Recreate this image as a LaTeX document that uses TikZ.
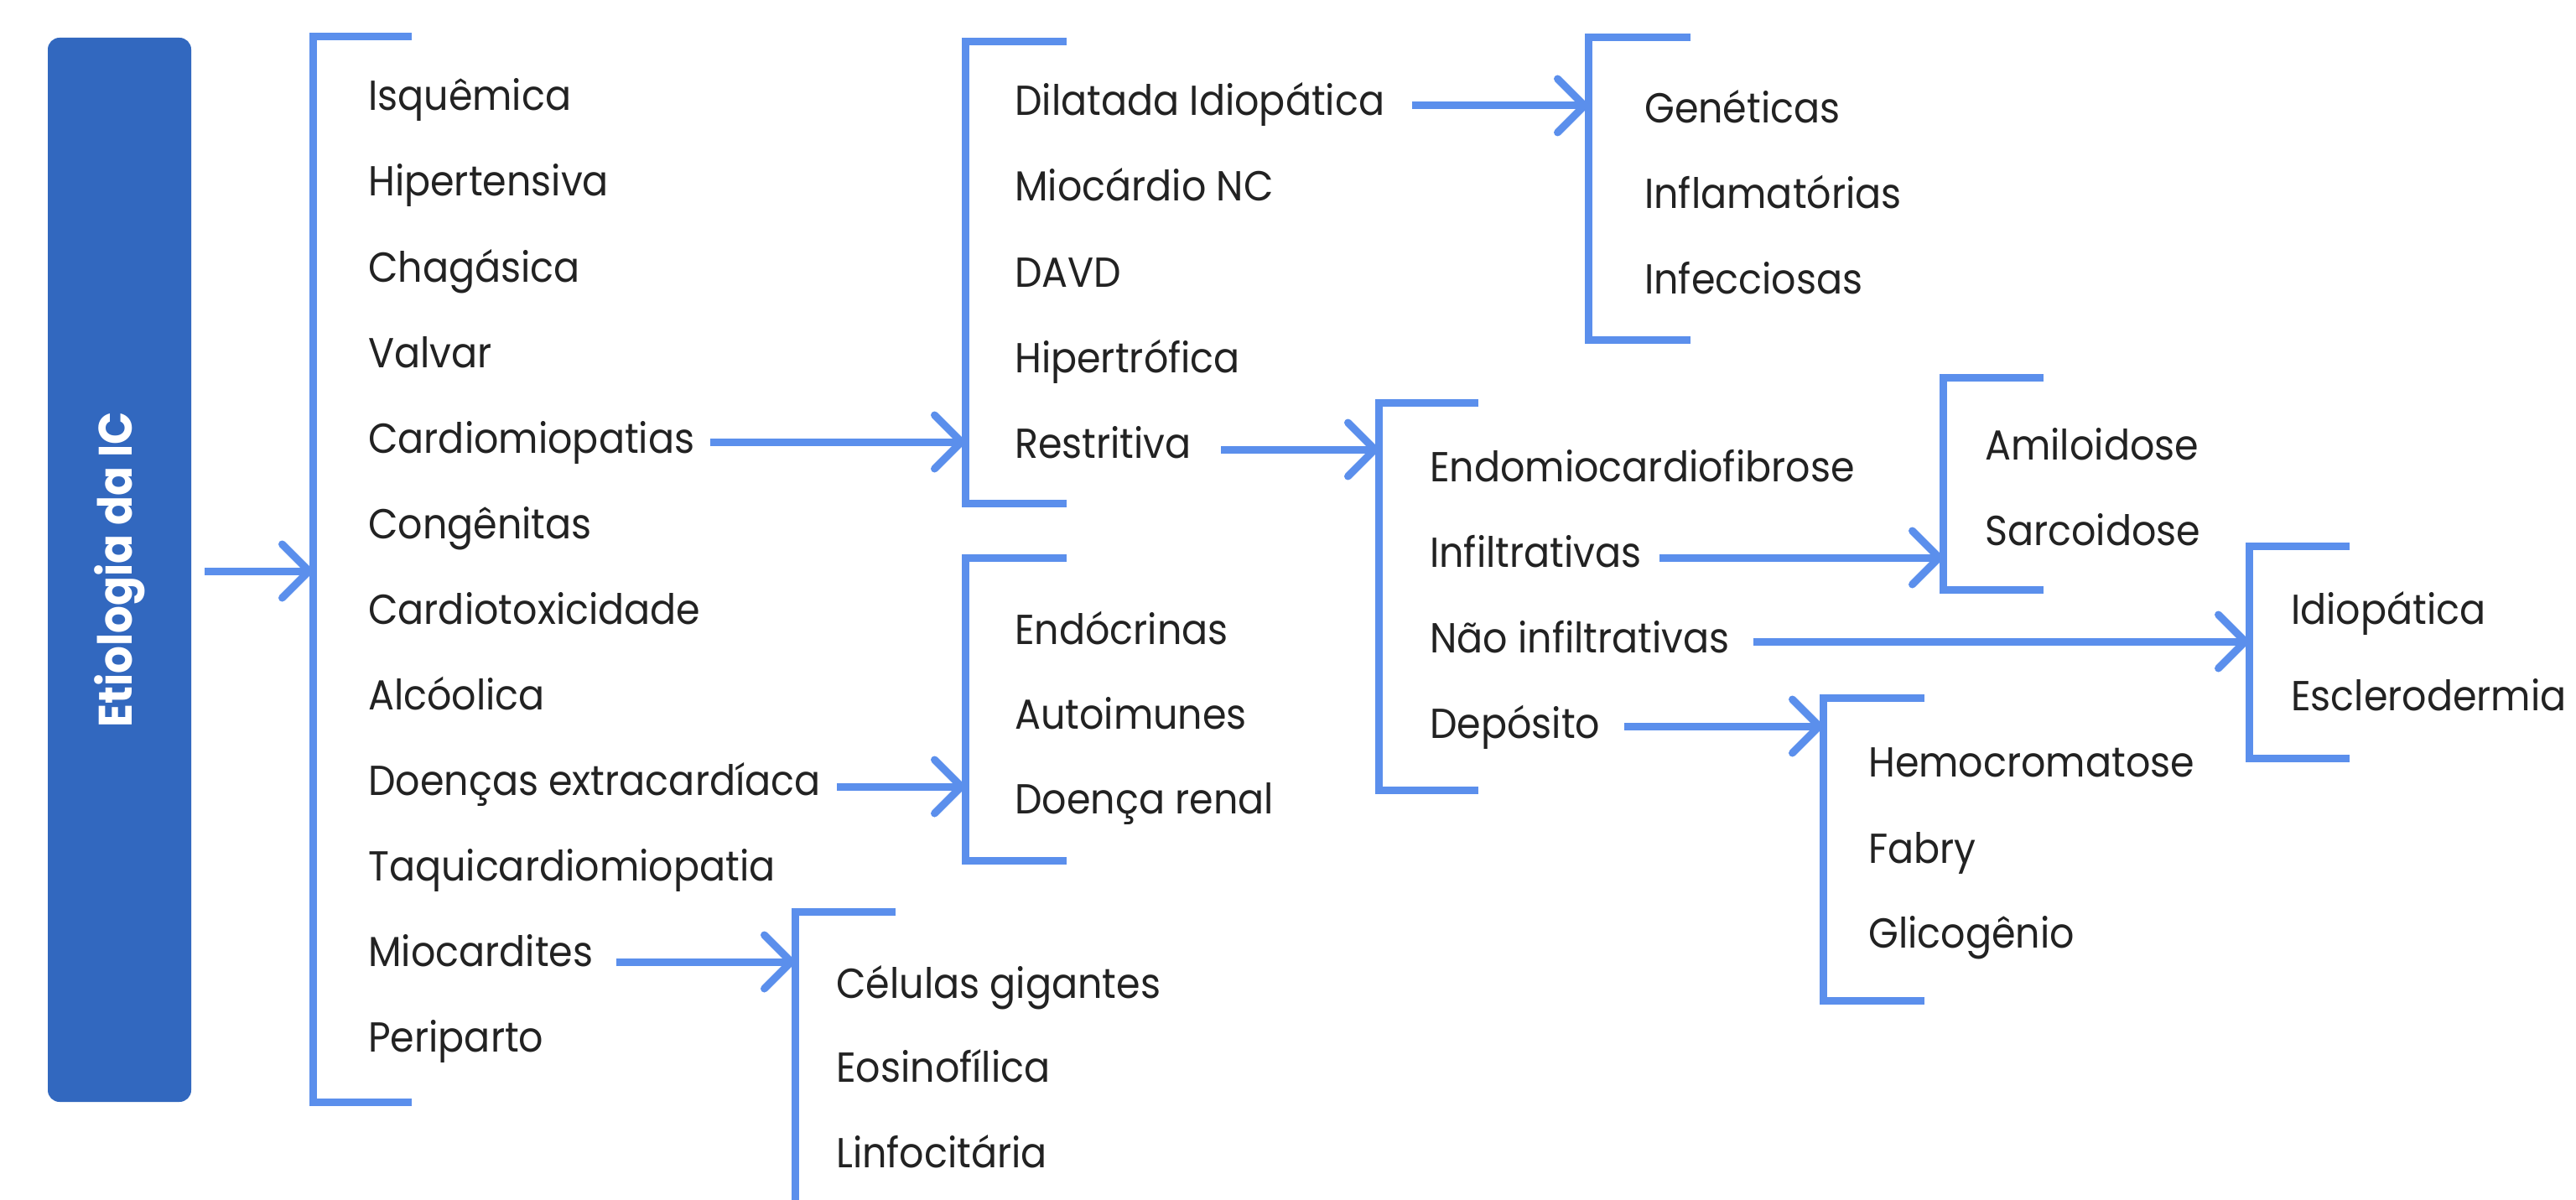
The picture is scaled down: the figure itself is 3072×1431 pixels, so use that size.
\documentclass[tikz,border=0pt]{standalone}
\usepackage{fontspec}
\setmainfont[FakeStretch=0.92]{Poppins}
\usetikzlibrary{arrows.meta}
\definecolor{lnblue}{HTML}{5B8FEC}
\definecolor{boxblue}{HTML}{3268BF}
\definecolor{txtc}{HTML}{222222}
\begin{document}
\begin{tikzpicture}[x=1pt,y=-1pt,
  lbl/.style={anchor=base west, inner sep=0pt, font=\fontsize{50}{60}\selectfont, text=txtc},
  brk/.style={draw=lnblue, line width=9pt, line join=miter},
  arr/.style={draw=lnblue, line width=9pt, -{Straight Barb[length=32pt,width=64pt,round]}},
]
\useasboundingbox[fill=white] (0,0) rectangle (3072,1431);

% root box
\node[fill=boxblue, rounded corners=14pt, minimum width=171pt, minimum height=1269pt, inner sep=0pt] (root) at (142.5,679.5) {};
\node[rotate=90, text=white, font=\bfseries\fontsize{56}{68}\selectfont, inner sep=0pt] (roottxt) at (root.center) {Etiologia da IC};

% brackets
\draw[brk] (491,44) -- (373,44) -- (373,1314) -- (491,1314);
\draw[brk] (1272,50) -- (1151,50) -- (1151,600) -- (1272,600);
\draw[brk] (2016,45) -- (1894,45) -- (1894,405) -- (2016,405);
\draw[brk] (1763,480) -- (1644,480) -- (1644,942) -- (1763,942);
\draw[brk] (2437,450) -- (2317,450) -- (2317,703) -- (2437,703);
\draw[brk] (2802,651) -- (2682,651) -- (2682,904) -- (2802,904);
\draw[brk] (2295,832) -- (2174,832) -- (2174,1193) -- (2295,1193);
\draw[brk] (1272,665) -- (1151,665) -- (1151,1026) -- (1272,1026);
\draw[brk] (1068,1087) -- (948,1087) -- (948,1440);

% bracket entry points
\coordinate (b1) at (373,681);
\coordinate (b2) at (1151,527);
\coordinate (b3) at (1894,126);
\coordinate (b4) at (1644,536);
\coordinate (b5) at (2317,665);
\coordinate (b6) at (2682,765);
\coordinate (b7) at (2174,866);
\coordinate (b8) at (1151,938);
\coordinate (b9) at (948,1147);

% column 1
\node[lbl] (isq) at (439,132) {Isquêmica};
\node[lbl] (hip) at (439,234) {Hipertensiva};
\node[lbl] (cha) at (439,336) {Chagásica};
\node[lbl] (val) at (439,438) {Valvar};
\node[lbl] (car) at (439,540) {Cardiomiopatias};
\node[lbl] (con) at (439,642) {Congênitas};
\node[lbl] (ctx) at (439,744) {Cardiotoxicidade};
\node[lbl] (alc) at (439,846) {Alcóolica};
\node[lbl] (doe) at (439,948) {Doenças extracardíaca};
\node[lbl] (taq) at (439,1050) {Taquicardiomiopatia};
\node[lbl] (mio) at (439,1152) {Miocardites};
\node[lbl] (per) at (439,1254) {Periparto};

% column 2
\node[lbl] (dil) at (1210,138) {Dilatada Idiopática};
\node[lbl] (mnc) at (1210,240) {Miocárdio NC};
\node[lbl] (dav) at (1210,342) {DAVD};
\node[lbl] (hpt) at (1210,444) {Hipertrófica};
\node[lbl] (res) at (1210,546) {Restritiva};

% column 3
\node[lbl] (gen) at (1961,147) {Genéticas};
\node[lbl] (inf) at (1961,249) {Inflamatórias};
\node[lbl] (ifc) at (1961,350) {Infecciosas};

% column 4
\node[lbl] (end) at (1705,574) {Endomiocardiofibrose};
\node[lbl] (ilt) at (1705,676) {Infiltrativas};
\node[lbl] (nil) at (1705,778) {Não infiltrativas};
\node[lbl] (dep) at (1705,880) {Depósito};

% column 5
\node[lbl] (ami) at (2367,548) {Amiloidose};
\node[lbl] (sar) at (2367,650) {Sarcoidose};

% column 6
\node[lbl] (idi) at (2732,744) {Idiopática};
\node[lbl] (esc) at (2732,847) {Esclerodermia};

% column 7
\node[lbl] (hem) at (2228,926) {Hemocromatose};
\node[lbl] (fab) at (2228,1029) {Fabry};
\node[lbl] (gli) at (2228,1130) {Glicogênio};

% column 8
\node[lbl] (edc) at (1210,768) {Endócrinas};
\node[lbl] (aut) at (1210,869) {Autoimunes};
\node[lbl] (ren) at (1210,970) {Doença renal};

% column 9
\node[lbl] (cel) at (997,1190) {Células gigantes};
\node[lbl] (eos) at (997,1290) {Eosinofílica};
\node[lbl] (lin) at (997,1392) {Linfocitária};

% arrow starts
\coordinate (s0) at (244,681);
\coordinate (s1) at (847,527);
\coordinate (s2) at (1684,126);
\coordinate (s3) at (1456,536);
\coordinate (s4) at (1979,665);
\coordinate (s5) at (2091,765);
\coordinate (s6) at (1937,866);
\coordinate (s7) at (998,938);
\coordinate (s8) at (735,1147);

\draw[arr] (s0) -- (b1);
\draw[arr] (s1) -- (b2);
\draw[arr] (s2) -- (b3);
\draw[arr] (s3) -- (b4);
\draw[arr] (s4) -- (b5);
\draw[arr] (s5) -- (b6);
\draw[arr] (s6) -- (b7);
\draw[arr] (s7) -- (b8);
\draw[arr] (s8) -- (b9);
\end{tikzpicture}
\end{document}
